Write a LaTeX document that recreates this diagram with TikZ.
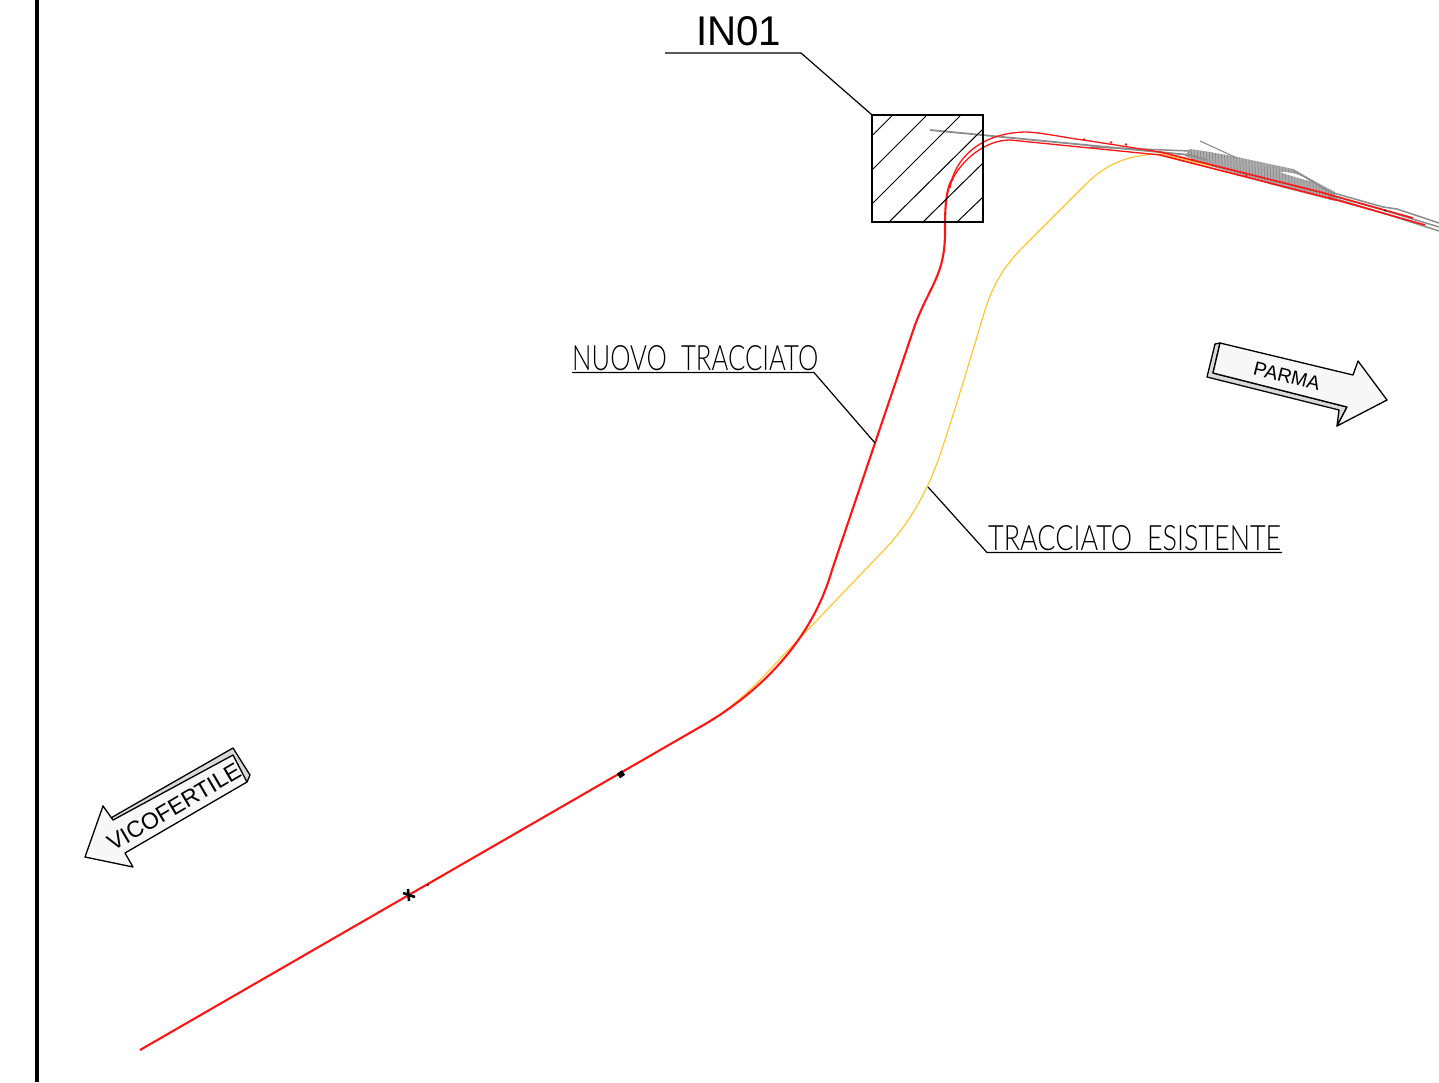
\documentclass[tikz,border=0pt]{standalone}
\usepackage{graphicx}
\usepackage{fontspec}
\setmainfont{Liberation Sans}
\newfontfamily\thinfont{Lato}[UprightFont=* Light]
\definecolor{trackred}{HTML}{FF1414}
\definecolor{trackyellow}{HTML}{FFC423}
\definecolor{trackgray}{HTML}{8C8C8C}
\tikzset{
  leader/.style={draw=black,line width=1.2pt},
  hatchline/.style={draw=black,line width=1pt},
  redtrack/.style={draw=trackred,line width=1.3pt,line join=round},
  redmain/.style={draw=trackred,line width=2.1pt,line join=round},
  yellowtrack/.style={draw=trackyellow,line width=1.1pt,line join=round},
  graytrack/.style={draw=trackgray,line width=1.5pt},
  arrowface/.style={draw=black,fill=black!3,line width=1.3pt,line join=round},
  arrowside/.style={draw=black,fill=black!15,line width=1.3pt,line join=round},
  labeltext/.style={inner sep=0pt,anchor=south west},
  arrowtext/.style={inner sep=0pt,font=\fontsize{19.5}{19.5}\selectfont,text=black}
}
\begin{document}
\begin{tikzpicture}[x=1pt,y=-1pt]
\useasboundingbox (0,0) rectangle (1439,1082);
\fill[white] (0,0) rectangle (1439,1082);
% frame line
\draw[line width=4pt] (37,0) -- (37,1082);

% gray bundle
\begin{scope}
\clip (1190,149) -- (1210,152) -- (1237,157) -- (1293,169) -- (1318,183) -- (1335,192)
  -- (1335,201) -- (1273,185) -- (1207,165) -- (1185,156) -- cycle;
\fill[trackgray!70] (1180,145) rectangle (1340,205);
\foreach \sx in {1185,1188,...,1338}{
  \draw[trackgray,line width=.8pt] (\sx,145) -- (\sx+3,205);
}
\end{scope}
\fill[white] (1280,172) .. controls (1295,172) and (1305,177) .. (1310,181) .. controls (1298,178) and (1288,175) .. (1280,172) -- cycle;
\draw[trackgray,line width=1.1pt] (1200,141) -- (1237,158);
\draw[graytrack] (1293,170) -- (1330,192);
\draw[graytrack,line width=1.8pt] (930,130) -- (1190,155) -- (1207,160);
\draw[graytrack] (1090,147) -- (1190,151);
\draw[graytrack] (1330,192) -- (1383,207) -- (1397,209) -- (1439,223);
\draw[graytrack] (1330,195) -- (1383,210) -- (1439,227);
\draw[graytrack] (1330,197) -- (1383,213) -- (1439,231);

% yellow existing alignment
\draw[yellowtrack] (700,727) .. controls (722,716) and (750,692) .. (775,664) -- (885,549)
  .. controls (905,528) and (925,498) .. (940,455)
  .. controls (955,410) and (970,360) .. (985,310)
  .. controls (994,282) and (1005,265) .. (1025,245) -- (1085,185)
  .. controls (1105,165) and (1125,155) .. (1160,154) -- (1212,166);

% red new alignment
\draw[redmain] (140,1050) -- (700,727) .. controls (760,693) and (812,640) .. (832,570)
  -- (915,325) .. controls (930,285) and (945,275) .. (945,232)
  .. controls (945,212) and (945,190) .. (953,178);
\draw[redtrack] (950,188) .. controls (955,155) and (985,132) .. (1027,132)
  .. controls (1045,133) and (1060,137) .. (1090,141) -- (1160,152);
\draw[redtrack] (952,180) .. controls (962,160) and (985,140) .. (1010,140)
  -- (1160,155);
\draw[redtrack,line width=1.6pt] (1160,152) -- (1320,192) -- (1413,218);
\draw[redtrack,line width=1.6pt] (1160,155) -- (1340,201) -- (1425,225);
% small red blips on the tracks
\foreach \bx/\by in {1084/139.5,1111/142.5,1126/144.5,1193/160,1246/176,1330/198}{
  \fill[trackred] (\bx,\by) circle (1.4pt);
}

% black marks
\draw[line width=2.6pt] (403,893) -- (415,897) (408,889) -- (409,901);
\draw[line width=5.5pt] (618.5,776) -- (623.5,772.5);
\fill (428,885) circle (1.1pt);
\fill (1385,210.5) circle (1pt);

% hatched box
\draw[hatchline]
  (892.7,115) -- (872,135.7)
  (927,115) -- (872,170)
  (961,115) -- (872,204)
  (983,129) -- (888,223)
  (983,163) -- (922,223)
  (983,197) -- (956,223);
\node[draw=black,line width=1.3pt,minimum width=111pt,minimum height=107pt,inner sep=0pt] (box) at (927.5,168.5) {};

% labels
\node[labeltext] (inlabel) at (696,46.5) {\resizebox{85pt}{29pt}{IN01}};
\coordinate (inL) at (665,53);
\coordinate (inR) at (801,53);
\draw[leader] (inL) -- (inR) -- (box.north west);

\node[labeltext] (nuovo) at (572,371) {\resizebox{246pt}{25pt}{\thinfont NUOVO\hspace{.55em}TRACCIATO}};
\coordinate (nuovoL) at (572,372.5);
\coordinate (nuovoR) at (814,372.5);
\coordinate (nuovoEnd) at (875,443);
\draw[leader] (nuovoL) -- (nuovoR) -- (nuovoEnd);

\node[labeltext] (esist) at (988,551) {\resizebox{293pt}{25pt}{\thinfont TRACCIATO\hspace{.55em}ESISTENTE}};
\coordinate (esistR) at (1282,552.5);
\coordinate (esistL) at (987,552.5);
\coordinate (esistEnd) at (928,487);
\draw[leader] (esistR) -- (esistL) -- (esistEnd);

% PARMA arrow
\draw[arrowside] (1215,344) -- (1207,377) -- (1339,410) -- (1337,426) -- (1347,407) -- (1213,373) -- (1220,343) -- cycle;
\draw[arrowface] (1220,343) -- (1353,375) -- (1358,361) -- (1387,400) -- (1337,426) -- (1347,407) -- (1213,373) -- cycle;
\node[arrowtext,rotate=-14] (parma) at (1287,376) {PARMA};

% VICOFERTILE arrow
\draw[arrowside] (103,806) -- (110,826) -- (247,782) -- (250,775) -- (233,748) -- (109,819) -- cycle;
\draw[arrowface] (233,755) -- (247,782) -- (125,853) -- (133,867) -- (85,857) -- (103,806) -- (113,820) -- cycle;
\node[arrowtext,font=\fontsize{23}{23}\selectfont,rotate=30.5] (vico) at (174,807) {VICOFERTILE};
\end{tikzpicture}
\end{document}
